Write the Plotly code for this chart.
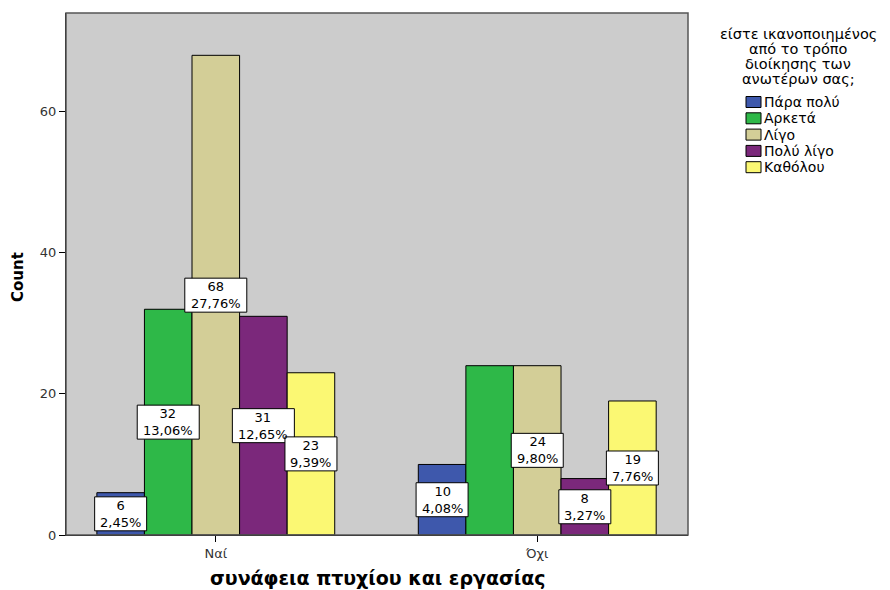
import plotly.graph_objects as go

categories = ["Ναί", "Όχι"]
series_names = ["Πάρα πολύ", "Αρκετά", "Λίγο", "Πολύ λίγο", "Καθόλου"]
counts = {
    "Πάρα πολύ": [6, 10],
    "Αρκετά": [32, 24],
    "Λίγο": [68, 24],
    "Πολύ λίγο": [31, 8],
    "Καθόλου": [23, 19],
}
percents = {
    "Πάρα πολύ": ["2,45%", "4,08%"],
    "Αρκετά": ["13,06%", None],
    "Λίγο": ["27,76%", "9,80%"],
    "Πολύ λίγο": ["12,65%", "3,27%"],
    "Καθόλου": ["9,39%", "7,76%"],
}
colors = ["#3e58ac", "#2eb848", "#d3ce97", "#7b287b", "#fbf873"]
legend_title_lines = ["είστε ικανοποιημένος", "από το τρόπο", "διοίκησης των", "ανωτέρων σας;"]
x_title = "συνάφεια πτυχίου και εργασίας"
y_title = "Count"
y_ticks = [0, 20, 40, 60]

FONT = "DejaVu Sans, Verdana, sans-serif"
W, H = 890, 590
ML, MR, MT, MB = 66, 202, 13, 55
bargap = 0.26
n = len(series_names)
bar_w = (1 - bargap) / n

fig = go.Figure()
annotations = []
shapes = []
for i, name in enumerate(series_names):
    fig.add_trace(go.Bar(
        x=categories, y=counts[name], name=name, showlegend=False,
        marker=dict(color=colors[i], line=dict(color="#000000", width=1)),
    ))
    for j, cat in enumerate(categories):
        if percents[name][j] is None:
            continue
        xpos = j + (i - (n - 1) / 2) * bar_w
        ypos = counts[name][j] / 2
        pct = percents[name][j]
        half_w = (10 * len(pct) + 2) / 2
        shapes.append(dict(
            type="rect", xref="x", yref="y",
            xsizemode="pixel", ysizemode="pixel", xanchor=xpos, yanchor=ypos,
            x0=-half_w, x1=half_w, y0=-17, y1=17,
            fillcolor="#ffffff", line=dict(color="#000000", width=1), layer="above",
        ))
        annotations.append(dict(
            x=xpos, y=ypos, xref="x", yref="y",
            text=f"{counts[name][j]}<br>{pct}", showarrow=False,
            font=dict(family=FONT, size=13, color="#000000"),
        ))

# helpers for pixel -> paper coordinates (legend & titles)
pw = W - ML - MR
ph = H - MT - MB
def px_x(x):
    return (x - ML) / pw
def px_y(y):
    return 1 - (y - MT) / ph

for k, line in enumerate(legend_title_lines):
    annotations.append(dict(
        x=px_x(798), y=px_y(34 + 15 * k), xref="paper", yref="paper",
        xanchor="center", yanchor="middle", text=line, showarrow=False,
        font=dict(family=FONT, size=14.5, color="#000000"),
    ))
item_y0 = 102
item_dy = 16.3
for i, name in enumerate(series_names):
    yc = item_y0 + i * item_dy
    shapes.append(dict(
        type="rect", xref="paper", yref="paper",
        x0=px_x(746), x1=px_x(761), y0=px_y(yc - 5.5), y1=px_y(yc + 5.5),
        fillcolor=colors[i], line=dict(color="#000000", width=1),
    ))
    annotations.append(dict(
        x=px_x(762), y=px_y(yc), xref="paper", yref="paper",
        xanchor="left", yanchor="middle", text=name, showarrow=False,
        font=dict(family=FONT, size=14, color="#000000"),
    ))

annotations.append(dict(
    x=px_x(378), y=px_y(578), xref="paper", yref="paper",
    xanchor="center", yanchor="middle", text=f"<b>{x_title}</b>", showarrow=False,
    font=dict(family=FONT, size=19, color="#000000"),
))
annotations.append(dict(
    x=px_x(18), y=px_y(277), xref="paper", yref="paper",
    xanchor="center", yanchor="middle", text=f"<b>{y_title}</b>", showarrow=False,
    textangle=-90, font=dict(family=FONT, size=15, color="#000000"),
))

shapes.append(dict(type="rect", xref="paper", yref="paper", x0=0, y0=0, x1=1, y1=1,
                   line=dict(color="#555555", width=1.5), layer="above"))

fig.update_layout(
    width=W, height=H,
    margin=dict(l=ML, r=MR, t=MT, b=MB, autoexpand=False),
    paper_bgcolor="#ffffff", plot_bgcolor="#cccccc",
    barmode="group", bargap=bargap, bargroupgap=0,
    font=dict(family=FONT, size=13, color="#333333"),
    annotations=annotations, shapes=shapes, showlegend=False,
    xaxis=dict(
        range=[-0.466, 1.469], showgrid=False, automargin=False,
        showline=True, linecolor="#000000", linewidth=1,
        ticks="outside", ticklen=6, tickcolor="#000000",
        tickfont=dict(family=FONT, size=13, color="#333333"),
    ),
    yaxis=dict(
        range=[0, 74], showgrid=False, zeroline=False, automargin=False,
        showline=True, linecolor="#000000", linewidth=1,
        ticks="outside", ticklen=6, tickcolor="#000000",
        tickvals=y_ticks,
        tickfont=dict(family=FONT, size=13, color="#333333"),
    ),
)

fig.write_html("out.html")
